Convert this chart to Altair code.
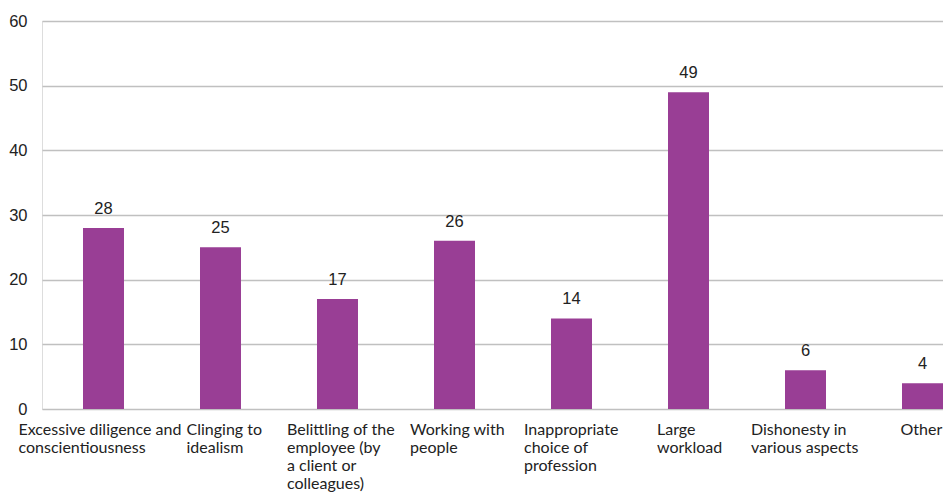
import altair as alt
import pandas as pd

categories = [
    "Excessive diligence and\nconscientiousness",
    "Clinging to\nidealism",
    "Belittling of the\nemployee (by\na client or\ncolleagues)",
    "Working with\npeople",
    "Inappropriate\nchoice of\nprofession",
    "Large\nworkload",
    "Dishonesty in\nvarious aspects",
    "Other",
]
values = [28, 25, 17, 26, 14, 49, 6, 4]
y_ticks = [0, 10, 20, 30, 40, 50, 60]

# half-widths of each (left-aligned) label block, so that the block sits centred under its bar
label_half_widths = [85, 34, 50.5, 44.5, 47.5, 31.5, 54.5, 22]

df = pd.DataFrame({"category": categories, "value": values})

BAR = "#993E95"
GRID = "#C0C0C0"

offset_expr = "-[" + ",".join(str(v) for v in label_half_widths) + "][indexof(domain('x'), datum.value)]"

x_enc = alt.X(
    "category:N",
    sort=None,
    title=None,
    scale=alt.Scale(paddingInner=0.6496, paddingOuter=0.1752, align=1),
    axis=alt.Axis(
        labelAngle=0,
        labelExpr="split(datum.label, '\\n')",
        labelAlign="left",
        labelOffset=alt.ExprRef(offset_expr),
        labelBaseline="top",
        labelPadding=12,
        labelFont="Lato",
        labelFontSize=16,
        labelLineHeight=18.2,
        labelColor="#222222",
        labelLimit=300,
        labelOverlap=False,
        ticks=False,
        domain=False,
        grid=False,
    ),
)

y_enc = alt.Y(
    "value:Q",
    title=None,
    scale=alt.Scale(domain=[0, 60], nice=False),
    axis=alt.Axis(
        values=y_ticks,
        labelFont="Liberation Sans",
        labelFontSize=16.5,
        labelColor="#222222",
        labelPadding=15,
        ticks=False,
        domain=False,
        grid=True,
        gridColor=GRID,
        gridWidth=1.6,
    ),
)

bars = alt.Chart(df).mark_bar(color=BAR).encode(x=x_enc, y=y_enc)

text = alt.Chart(df).mark_text(
    baseline="alphabetic",
    align="center",
    dy=-14,
    font="Liberation Sans",
    fontSize=16.5,
    color="#222222",
).encode(x=alt.X("category:N", sort=None), y="value:Q", text="value:Q")

chart = (
    alt.layer(bars, text)
    .properties(
        width=901,
        height=388,
        autosize="none",
        padding={"left": 42, "top": 21, "right": 0, "bottom": 83},
    )
    .configure_view(stroke=None)
    .configure(background="white")
)

chart.save("out.html", embed_options={"renderer": "svg", "actions": False})
